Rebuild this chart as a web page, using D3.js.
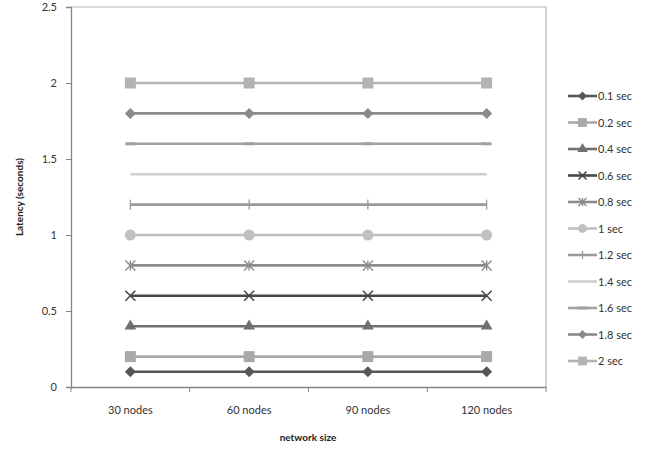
<!DOCTYPE html>
<html><head><meta charset="utf-8">
<script src="https://cdn.jsdelivr.net/npm/d3@7"></script>
<style>body{margin:0;background:#fff}text{font-family:Lato,"Open Sans",sans-serif}</style>
</head><body>
<svg id="c" width="667" height="452"></svg>
<script>
const categories = ["30 nodes","60 nodes","90 nodes","120 nodes"];
const seriesNames = ["0.1 sec","0.2 sec","0.4 sec","0.6 sec","0.8 sec","1 sec","1.2 sec","1.4 sec","1.6 sec","1.8 sec","2 sec"];
const s01 = [0.1,0.1,0.1,0.1];
const s02 = [0.2,0.2,0.2,0.2];
const s04 = [0.4,0.4,0.4,0.4];
const s06 = [0.6,0.6,0.6,0.6];
const s08 = [0.8,0.8,0.8,0.8];
const s10 = [1,1,1,1];
const s12 = [1.2,1.2,1.2,1.2];
const s14 = [1.4,1.4,1.4,1.4];
const s16 = [1.6,1.6,1.6,1.6];
const s18 = [1.8,1.8,1.8,1.8];
const s20 = [2,2,2,2];
const yTicks = [0,0.5,1,1.5,2,2.5];
const yTickLabels = ["0","0.5","1","1.5","2","2.5"];

const seriesValues = [s01,s02,s04,s06,s08,s10,s12,s14,s16,s18,s20];
const styles = [
  {c:"#575757", m:"diamond"},
  {c:"#a9a9a9", m:"square"},
  {c:"#707070", m:"triangle"},
  {c:"#474747", m:"x"},
  {c:"#8c8c8c", m:"star"},
  {c:"#c0c0c0", m:"circle"},
  {c:"#9a9a9a", m:"plus"},
  {c:"#cfcfcf", m:"none"},
  {c:"#a0a0a0", m:"dash"},
  {c:"#8a8a8a", m:"diamond"},
  {c:"#b3b3b3", m:"square"}
];

const svg = d3.select("#c");
const L=71, T=7, R=546, B=387;
const x = d3.scaleBand().domain(categories).range([L,R]);
const y = d3.scaleLinear().domain([0,2.5]).range([B,T]);

// plot border (top/right)
svg.append("path").attr("d",`M${L},${T}H${R}V${B}`).attr("fill","none").attr("stroke","#b5b5b5").attr("stroke-width",1.2);

// axes
const ya = svg.append("g").attr("transform",`translate(${L},0)`)
  .call(d3.axisLeft(y).tickValues(yTicks).tickFormat((d,i)=>yTickLabels[i]).tickSize(5).tickPadding(9));
const xa = svg.append("g").attr("transform",`translate(0,${B})`)
  .call(d3.axisBottom(x).tickSize(0).tickPadding(19));
[ya,xa].forEach(g=>{
  g.selectAll("path.domain").attr("stroke","#858585").attr("stroke-width",1.3);
  g.selectAll("line").attr("stroke","#858585");
  g.selectAll("text").attr("fill","#333").style("font-size","11px").style("font-family","Lato,'Open Sans',sans-serif");
});
// x ticks at band boundaries
const bounds = categories.map(c=>x(c)).concat([R]);
svg.append("g").selectAll("line").data(bounds).join("line")
  .attr("x1",d=>d).attr("x2",d=>d).attr("y1",B).attr("y2",B+5).attr("stroke","#858585");

function drawMarker(g, type, cx, cy, color, s){
  s = s||1;
  if(type==="diamond") { const r=5.5*s; g.append("path").attr("d",`M${cx},${cy-r}L${cx+r},${cy}L${cx},${cy+r}L${cx-r},${cy}Z`).attr("fill",color); }
  else if(type==="square") g.append("rect").attr("x",cx-5.5*s).attr("y",cy-5.5*s).attr("width",11*s).attr("height",11*s).attr("fill",color);
  else if(type==="triangle") g.append("path").attr("d",d3.symbol(d3.symbolTriangle, 60*s)()).attr("transform",`translate(${cx},${cy})`).attr("fill",color);
  else if(type==="circle") g.append("circle").attr("cx",cx).attr("cy",cy).attr("r",5.5*s).attr("fill",color);
  else if(type==="x") { const r=5*s; g.append("path").attr("d",`M${cx-r},${cy-r}L${cx+r},${cy+r}M${cx-r},${cy+r}L${cx+r},${cy-r}`).attr("stroke",color).attr("stroke-width",1.6); }
  else if(type==="star") { const r=5*s; g.append("path").attr("d",`M${cx-r},${cy-r}L${cx+r},${cy+r}M${cx-r},${cy+r}L${cx+r},${cy-r}M${cx},${cy-r}V${cy+r}`).attr("stroke",color).attr("stroke-width",1.4); }
  else if(type==="plus") { const r=5*s; g.append("path").attr("d",`M${cx},${cy-r}V${cy+r}`).attr("stroke",color).attr("stroke-width",1.3); }
  else if(type==="dash") { g.append("path").attr("d",`M${cx-5},${cy}H${cx+5}`).attr("stroke",color).attr("stroke-width",3); }
}

const line = d3.line().x((d,i)=>x(categories[i])+x.bandwidth()/2).y(d=>y(d));
const plot = svg.append("g");
seriesValues.forEach((vals,k)=>{
  const st = styles[k];
  plot.append("path").datum(vals).attr("d",line).attr("fill","none").attr("stroke",st.c).attr("stroke-width",2.6);
  vals.forEach((v,i)=>drawMarker(plot, st.m, x(categories[i])+x.bandwidth()/2, y(v), st.c));
});

// legend
const lg = svg.append("g");
seriesNames.forEach((n,k)=>{
  const st = styles[k];
  const cy = 96 + k*26.5;
  lg.append("line").attr("x1",568).attr("x2",597).attr("y1",cy).attr("y2",cy).attr("stroke",st.c).attr("stroke-width",2.6);
  drawMarker(lg, st.m, 582.5, cy, st.c, 0.8);
  lg.append("text").attr("x",598).attr("y",cy+4).attr("fill","#333").style("font-size","11px").text(n);
});

// titles
svg.append("text").attr("x",308).attr("y",441).attr("text-anchor","middle").attr("fill","#222")
  .style("font-size","10px").style("font-weight","bold").text("network size");
svg.append("text").attr("transform","translate(23,197) rotate(-90)").attr("text-anchor","middle").attr("fill","#222")
  .style("font-size","10px").style("font-weight","bold").text("Latency (seconds)");
</script>
</body></html>
